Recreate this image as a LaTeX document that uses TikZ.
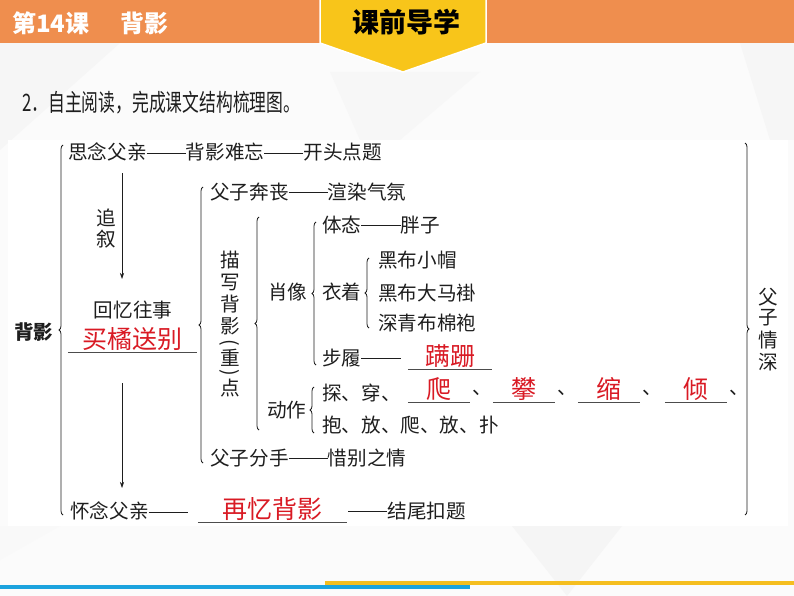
\documentclass[tikz,border=0pt]{standalone}
\usepackage{fontspec}
\setmainfont{Noto Sans CJK SC}
\usepackage{tikz}
\usetikzlibrary{arrows.meta,positioning,calc,decorations.pathreplacing}
\definecolor{headorange}{HTML}{EF8E4E}
\definecolor{tabyellow}{HTML}{F8C51A}
\definecolor{barblue}{HTML}{1CA3DE}
\definecolor{baryellow}{HTML}{F5BE1F}
\definecolor{ansred}{HTML}{D91A24}
\definecolor{ink}{HTML}{1E1E1E}
\newcommand\zdash{\rule[0.33em]{2em}{0.6pt}}

\begin{document}
\begin{tikzpicture}[x=1pt,y=-1pt,>=Stealth,
  txt/.style={anchor=west,inner sep=0pt,text=ink,font=\fontsize{19.6}{20}\selectfont},
  ctxt/.style={inner sep=0pt,text=ink,font=\fontsize{19.6}{20}\selectfont},
  blank/.style={anchor=south,inner sep=0pt,text depth=3pt,text=ansred,font=\fontsize{25}{26}\selectfont},
  uline/.style={draw=gray!60!black,line width=0.7pt},
  brc/.style={draw=ink,line width=0.8pt,decorate,decoration={brace,amplitude=4pt}},
  arr/.style={-{Stealth[length=6pt,width=4pt]},draw=ink,line width=0.6pt}]

\useasboundingbox (0,0) rectangle (794,596);

\fill[gray!3] (0,0) rectangle (794,596);
\fill[gray!7] (0,43) -- (120,43) -- (0,150) -- cycle;
\fill[gray!6] (330,72) -- (480,72) -- (400,140) -- (360,140) -- cycle;
\fill[gray!7] (740,43) -- (794,43) -- (794,140) -- (770,140) -- cycle;
\fill[gray!8] (512,526) -- (622,526) -- (567,596) -- cycle;
\fill[gray!5] (0,526) -- (60,526) -- (0,560) -- cycle;
\fill[white] (8,140) rectangle (788,526);

\fill[headorange] (0,0) rectangle (794,43);
\filldraw[fill=tabyellow,draw=white,line width=1.5pt] (320,-2) -- (486,-2) -- (486,43) -- (403,72) -- (320,43) -- cycle;
\node[anchor=west,inner sep=0pt,text=white,font=\bfseries\fontsize{24}{24}\selectfont] (lesson) at (12,23) {第14课};
\node[anchor=west,inner sep=0pt,text=white,font=\bfseries\fontsize{24}{24}\selectfont] (title) at (120,23) {背影};
\node[inner sep=0pt,text=black,font=\bfseries\fontsize{27}{27}\selectfont] (tab) at (406,22) {课前导学};

\node[txt,font=\fontsize{24}{24}\selectfont,xscale=0.7] (task) at (22,103) {2．自主阅读，完成课文结构梳理图。};

\fill[baryellow] (325,581) rectangle (794,585);
\fill[barblue] (0,585) rectangle (470,589);

% left column
\node[ctxt,font=\bfseries\fontsize{19.6}{20}\selectfont] (root) at (34,332) {背影};
\draw[brc] (63,515) -- (63,145);

\node[txt] (sini) at (68,152) {思念父亲\zdash 背影难忘\zdash 开头点题};
\foreach \c/\y [count=\i] in {追/218,叙/239}
  \node[ctxt] (zx\i) at (106,\y) {\c};
\coordinate (a1s) at (122,173);
\coordinate (a1e) at (122,279);
\draw[arr] (a1s) -- (a1e);

\node[ctxt] (huiyi) at (133,310) {回忆往事};
\node[blank,minimum width=129pt] (mjsb) at (132.5,352) {买橘送别};
\draw[uline] (mjsb.south west) -- (mjsb.south east);

\coordinate (a2s) at (122,383);
\coordinate (a2e) at (122,488);
\draw[arr] (a2s) -- (a2e);

\node[txt] (huainian) at (70,511) {怀念父亲\zdash};
\node[blank,minimum width=149pt] (zybj) at (272.5,522) {再忆背影};
\draw[uline] (zybj.south west) -- (zybj.south east);
\node[txt] (jiewei) at (348,511) {\zdash 结尾扣题};

% middle part
\draw[brc] (203,463) -- (203,187);
\node[txt] (benshang) at (210,192) {父子奔丧\zdash 渲染气氛};
\node[txt] (fenshou) at (210,458) {父子分手\zdash 惜别之情};

\foreach \c/\y [count=\i] in {描/260,写/282,背/304,影/326,重/358,点/388}
  \node[ctxt] (ms\i) at (230,\y) {\c};
\node[ctxt,rotate=-90] (lp) at (230,343) {(};
\node[ctxt,rotate=-90] (rp) at (230,373) {)};

\draw[brc] (259,430) -- (259,217);
\node[txt] (xiaoxiang) at (268,292) {肖像};
\draw[brc] (316,365) -- (316,222);
\node[txt] (titai) at (322,225) {体态\zdash 胖子};
\node[txt] (yizhuo) at (322,292) {衣着};
\draw[brc] (369,328) -- (369,258);
\node[txt] (yz1) at (378,260) {黑布小帽};
\node[txt] (yz2) at (378,293) {黑布大马褂};
\node[txt] (yz3) at (378,323) {深青布棉袍};

\node[txt] (bulv) at (322,358) {步履\zdash};
\node[blank,minimum width=84pt] (panshan) at (450,369) {蹒跚};
\draw[uline] (panshan.south west) -- (panshan.south east);

\node[txt] (dongzuo) at (267,410) {动作};
\draw[brc] (314,433) -- (314,387);
\node[txt] (dz1) at (322,393) {探、穿、};
\foreach \w/\x [count=\i] in {爬/439,攀/524,缩/609,倾/696}{
  \node[blank,minimum width=62pt] (bk\i) at (\x,402) {\w};
  \draw[uline] (bk\i.south west) -- (bk\i.south east);
  \node[txt] (dun\i) at (\x+33,393) {、};
}
\node[txt] (dz2) at (322,425) {抱、放、爬、放、扑};

% right side
\draw[brc] (745,143) -- (745,515);
\foreach \c/\y [count=\i] in {父/297,子/318,情/340,深/362}
  \node[ctxt] (fz\i) at (768,\y) {\c};

\end{tikzpicture}
\end{document}
